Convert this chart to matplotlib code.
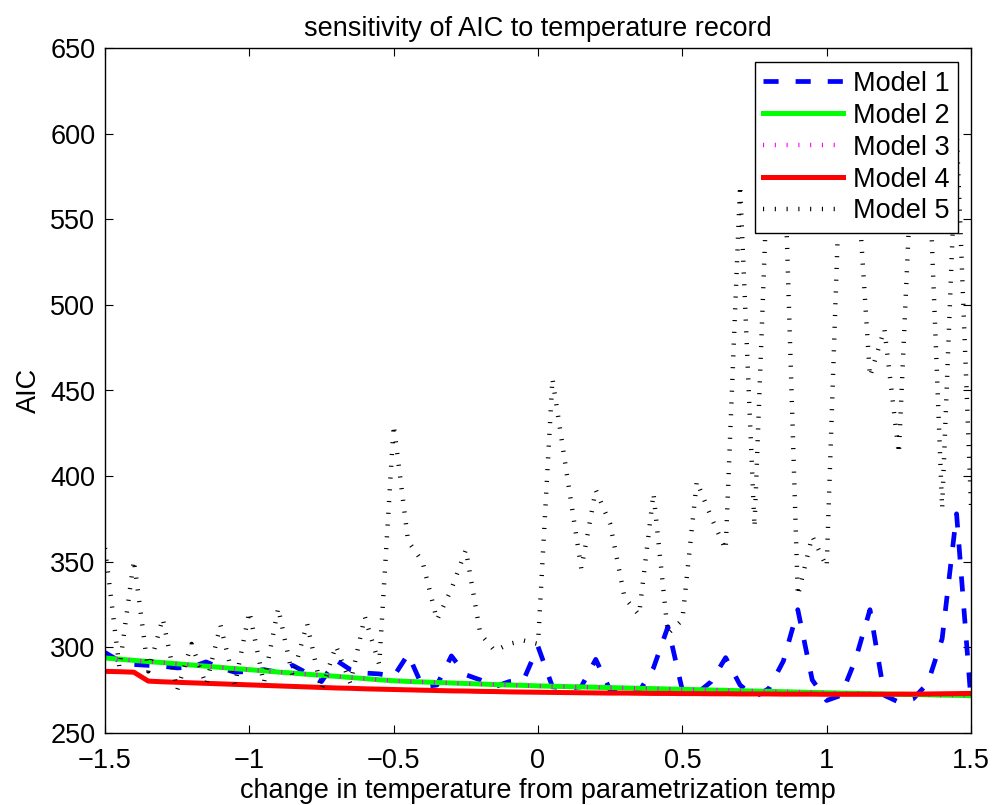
import numpy as np
import matplotlib
matplotlib.use("Agg")
import matplotlib.pyplot as plt

plt.rcParams["font.family"] = ["Liberation Sans", "DejaVu Sans"]

# temperature offsets, one sample every 0.05
temp_change = np.linspace(-1.5, 1.5, 61)

model1 = [
    297.0, 292.0, 290.0, 289.5, 289.0, 288.0, 288.5, 291.5, 288.0, 285.5,
    286.0, 287.0, 285.5, 289.5, 285.0, 280.0, 292.5, 287.0, 285.0, 284.5,
    283.0, 296.0, 277.0, 278.0, 295.0, 284.0, 281.0, 277.0, 280.0, 281.0,
    300.5, 277.0, 276.0, 277.0, 293.0, 275.0, 273.0, 274.0, 288.0, 312.0,
    275.0, 273.0, 280.0, 294.0, 278.0, 271.0, 276.0, 292.0, 322.0, 281.0,
    269.0, 272.0, 293.0, 322.0, 272.0, 268.0, 270.0, 279.0, 305.0, 378.0,
    269.0,
]

model2 = [
    293.8, 293.1, 292.4, 291.7, 291.1, 290.4, 289.7, 289.0, 288.3, 287.6,
    287.0, 286.3, 285.6, 285.0, 284.3, 283.7, 283.1, 282.4, 281.8, 281.1,
    280.5, 280.1, 279.8, 279.5, 279.2, 278.9, 278.6, 278.3, 278.0, 277.8,
    277.5, 277.3, 277.1, 276.9, 276.7, 276.5, 276.3, 276.1, 275.9, 275.7,
    275.5, 275.3, 275.1, 274.9, 274.7, 274.5, 274.3, 274.1, 273.9, 273.7,
    273.5, 273.3, 273.2, 273.0, 272.8, 272.6, 272.5, 272.3, 272.1, 272.0,
    271.8,
]

model3 = [
    293.8, 293.1, 292.4, 291.7, 291.1, 290.4, 289.7, 289.0, 288.3, 287.6,
    287.0, 286.3, 285.6, 285.0, 284.3, 283.7, 283.1, 282.4, 281.8, 281.1,
    280.5, 280.1, 279.8, 279.5, 279.2, 278.9, 278.6, 278.3, 278.0, 277.8,
    277.5, 277.3, 277.1, 276.9, 276.7, 276.5, 276.3, 276.1, 275.9, 275.7,
    275.5, 275.3, 275.1, 274.9, 274.7, 274.5, 274.3, 274.1, 273.9, 273.7,
    273.5, 273.3, 273.2, 273.0, 272.8, 272.6, 272.5, 272.3, 272.1, 272.0,
    271.8,
]

model4 = [
    286.0, 285.8, 285.5, 280.3, 279.9, 279.6, 279.3, 279.0, 278.7, 278.4,
    278.1, 277.8, 277.5, 277.2, 276.9, 276.6, 276.3, 276.1, 275.8, 275.6,
    275.4, 275.2, 275.0, 274.8, 274.6, 274.5, 274.3, 274.2, 274.0, 273.9,
    273.8, 273.7, 273.6, 273.5, 273.4, 273.3, 273.3, 273.2, 273.1, 273.1,
    273.0, 273.0, 272.9, 272.9, 272.8, 272.8, 272.8, 272.7, 272.7, 272.7,
    272.6, 272.6, 272.6, 272.6, 272.6, 272.7, 272.7, 272.8, 272.9, 273.0,
    273.1,
]

model5 = [
    358.0, 288.0, 351.0, 286.0, 317.0, 275.0, 302.0, 278.0, 313.0, 278.0,
    321.0, 279.0, 323.0, 283.0, 314.0, 275.0, 301.0, 279.0, 318.0, 290.0,
    430.0, 362.0, 350.0, 316.0, 334.0, 357.0, 308.0, 298.0, 302.0, 304.0,
    302.0, 457.0, 401.0, 346.0, 392.0, 372.0, 329.0, 319.0, 390.0, 308.0,
    316.0, 397.0, 376.0, 357.0, 570.0, 370.0, 600.0, 605.0, 330.0, 365.0,
    347.0, 600.0, 590.0, 458.0, 486.0, 413.0, 605.0, 600.0, 381.0, 603.0,
    383.0,
]

labels = ["Model 1", "Model 2", "Model 3", "Model 4", "Model 5"]
xticks = [-1.5, -1, -0.5, 0, 0.5, 1, 1.5]
yticks = [250, 300, 350, 400, 450, 500, 550, 600, 650]

FS = 19.5

fig = plt.figure(figsize=(9.95, 8.05), dpi=100)
ax = fig.add_axes([105 / 995, 1 - 733 / 805, 866 / 995, 685 / 805])

ax.plot(temp_change, model1, color="blue", lw=3.4, dashes=(3.2, 3.6),
        dash_capstyle="butt", label=labels[0])
ax.plot(temp_change, model2, color=(0, 1, 0), lw=3.6, label=labels[1])
ax.plot(temp_change, model3, color="magenta", lw=3.2, dashes=(0.25, 2.4),
        dash_capstyle="butt", label=labels[2])
ax.plot(temp_change, model4, color="red", lw=3.6, label=labels[3])
ax.plot(temp_change, model5, color="black", lw=3.2, dashes=(0.25, 2.4),
        dash_capstyle="butt", label=labels[4])

ax.set_xlim(-1.5, 1.5)
ax.set_ylim(250, 650)
ax.set_xticks(xticks)
ax.set_xticklabels(["\u22121.5", "\u22121", "\u22120.5", "0", "0.5", "1", "1.5"])
ax.set_yticks(yticks)
ax.tick_params(direction="in", length=5.8, width=0.8, top=True, right=True,
               labelsize=FS, colors="black")
ax.tick_params(axis="x", pad=11)
ax.tick_params(axis="y", pad=7)
for sp in ax.spines.values():
    sp.set_linewidth(1.0)

ax.set_title("sensitivity of AIC to temperature record", fontsize=FS, pad=9)
ax.set_xlabel("change in temperature from parametrization temp", fontsize=FS, labelpad=3)
ax.set_ylabel("AIC", fontsize=FS, labelpad=6)

leg = ax.legend(loc="upper right", bbox_to_anchor=((958 - 105) / 866, (733 - 62) / 685),
                borderaxespad=0, fontsize=FS, handlelength=2.95, handletextpad=0.35,
                labelspacing=0.22, borderpad=0.32, fancybox=False, framealpha=1,
                edgecolor="black")
leg.get_frame().set_linewidth(1.0)

fig.savefig("out.png", dpi=100)
